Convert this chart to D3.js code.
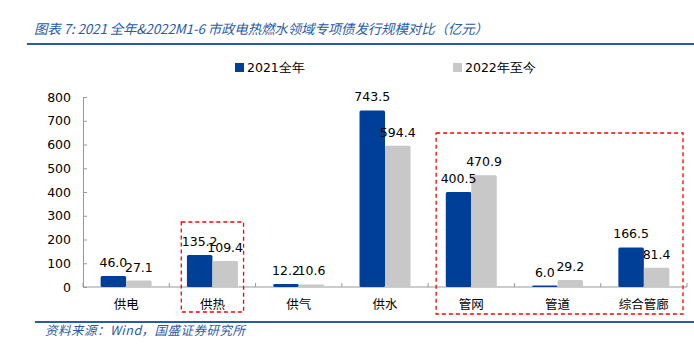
<!DOCTYPE html>
<html><head><meta charset="utf-8">
<script src="https://cdn.jsdelivr.net/npm/d3@7"></script>
<style>body{margin:0;background:#fff;} svg{display:block;}</style>
</head><body>
<svg id="c" width="694" height="349"></svg>
<script>
const categories = ["供电","供热","供气","供水","管网","管道","综合管廊"];
const series2021 = [46.0,135.2,12.2,743.5,400.5,6.0,166.5];
const series2022 = [27.1,109.4,10.6,594.4,470.9,29.2,81.4];
const seriesNames = ["2021全年","2022年至今"];
const yTicks = [0,100,200,300,400,500,600,700,800];
const titleText = "图表 7:  2021 全年&2022M1-6 市政电热燃水领域专项债发行规模对比（亿元）";
const sourceText = "资料来源：Wind，国盛证券研究所";

const colors = ["#003f98","#c8c8c8"];
const svg = d3.select("#c");
const numFont = "'DejaVu Sans', Verdana, sans-serif";
const cjkFont = "'Noto Sans CJK SC', sans-serif";

const x = d3.scaleBand().domain(categories).range([83,687]).padding(0);
const y = d3.scaleLinear().domain([0,800]).range([287,97]);
const barW = 25.5;

// title
svg.append("text").attr("x",34).attr("y",34).attr("fill","#2a5aa8")
  .attr("font-family",cjkFont).attr("font-style","italic").attr("font-size",13.5)
  .attr("textLength",454).attr("lengthAdjust","spacing")
  .text(titleText);
svg.append("line").attr("x1",27).attr("x2",694).attr("y1",44).attr("y2",44)
  .attr("stroke","#2a5aa8").attr("stroke-width",2);

// bottom line + source
svg.append("line").attr("x1",35).attr("x2",694).attr("y1",322).attr("y2",322)
  .attr("stroke","#2a5aa8").attr("stroke-width",2);
svg.append("text").attr("x",45).attr("y",335).attr("fill","#2a5aa8")
  .attr("font-family",cjkFont).attr("font-style","italic").attr("font-size",12.5)
  .attr("textLength",200).attr("lengthAdjust","spacing")
  .text(sourceText);

// legend
const leg = [[235,seriesNames[0]],[453,seriesNames[1]]];
leg.forEach((l,i)=>{
  svg.append("rect").attr("x",l[0]).attr("y",63).attr("width",9).attr("height",9).attr("fill",colors[i]);
  svg.append("text").attr("x",l[0]+12).attr("y",72).attr("font-family",numFont).attr("font-size",12.5)
    .attr("fill","#000").text(l[1]);
});

// y axis
const ya = svg.append("g").attr("transform","translate(83,0)")
  .call(d3.axisLeft(y).tickValues(yTicks).tickSize(-4).tickPadding(12));
ya.select(".domain").attr("stroke","#999");
ya.selectAll(".tick line").attr("stroke","#999");
ya.selectAll("text").attr("font-family",numFont).attr("font-size",12.5).attr("fill","#000");

// x axis
svg.append("line").attr("x1",83).attr("x2",687).attr("y1",y(0)).attr("y2",y(0)).attr("stroke","#999");
const bounds = categories.map(c=>x(c)+x.bandwidth()).concat([x(categories[0])]);
svg.selectAll(".xt").data(bounds).enter().append("line")
  .attr("x1",d=>d).attr("x2",d=>d).attr("y1",y(0)-4).attr("y2",y(0)).attr("stroke","#999");
svg.selectAll(".xl").data(categories).enter().append("text")
  .attr("x",d=>x(d)+x.bandwidth()/2).attr("y",309).attr("text-anchor","middle")
  .attr("font-family",cjkFont).attr("font-size",12.5).attr("fill","#000").text(d=>d);

// bars
const data = [];
categories.forEach((c,i)=>{
  data.push({c, s:0, v:series2021[i]});
  data.push({c, s:1, v:series2022[i]});
});
const bx = d => x(d.c)+x.bandwidth()/2 - barW + d.s*barW;
svg.selectAll(".bar").data(data).enter().append("rect")
  .attr("x",bx).attr("y",d=>y(d.v)).attr("width",barW).attr("height",d=>y(0)-y(d.v))
  .attr("rx",1.5).attr("fill",d=>colors[d.s]);
svg.selectAll(".vl").data(data).enter().append("text")
  .attr("x",d=>bx(d)+barW/2).attr("y",d=>y(d.v)-9).attr("text-anchor","middle")
  .attr("font-family",numFont).attr("font-size",12.5).attr("fill","#000")
  .text(d=>d.v.toFixed(1));

// red dashed boxes
const box = (c0,c1,inL,inR,yTop,yBot)=>{
  svg.append("rect").attr("x",x(c0)+inL).attr("y",yTop)
    .attr("width",x(c1)+x.bandwidth()-inR-(x(c0)+inL)).attr("height",yBot-yTop)
    .attr("fill","none").attr("stroke","#ff0000").attr("stroke-width",1.3).attr("stroke-dasharray","4,3");
};
box("供热","供热",12,12,222,312);
box("管网","综合管廊",8,4,133,314);
</script>
</body></html>
